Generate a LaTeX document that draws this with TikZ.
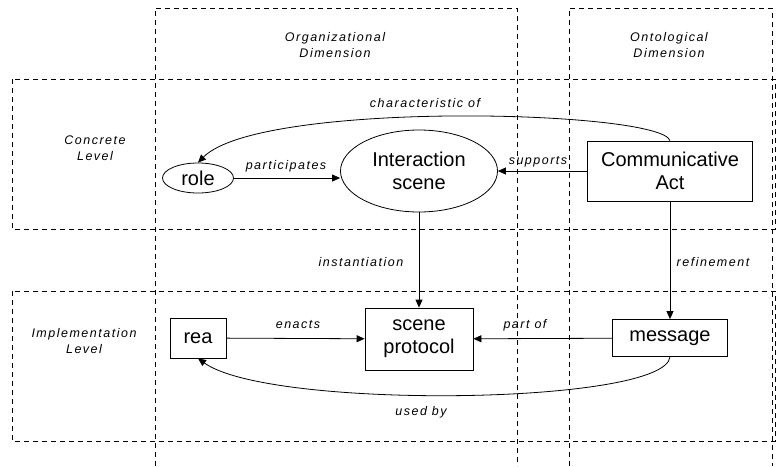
\documentclass[tikz,border=0pt]{standalone}
\usepackage{fontspec}
\setmainfont{Liberation Sans}
\newfontfamily\lblfont[LetterSpace=12]{Liberation Sans}
\usetikzlibrary{shapes.geometric,arrows.meta}

\begin{document}
\begin{tikzpicture}[x=1pt,y=-1pt,
  zone/.style={dash pattern=on 5pt off 4pt, line width=0.9pt},
  ent/.style={draw, line width=0.8pt, font=\fontsize{20}{23}\selectfont, align=center, inner sep=0pt},
  roundent/.style={ent, ellipse},
  boxent/.style={ent, rectangle},
  lbl/.style={font=\lblfont\itshape\fontsize{12.5}{16.5}\selectfont, align=center, inner sep=0pt},
  link/.style={-{Triangle[length=8pt,width=7pt]}, line width=0.8pt}]
\useasboundingbox (0,0) rectangle (776,466);
% dimensions and levels
\draw[zone] (155,466) -- (155,8) -- (517,8) -- (517,466);
\draw[zone] (569,466) -- (569,8) -- (772,8) -- (772,466);
\draw[zone] (12,79) rectangle (775,229);
\draw[zone] (12,291) rectangle (775,441);
\node[lbl] (OrgDim) at (335,45) {Organizational\\Dimension};
\node[lbl] (OntDim) at (669,45) {Ontological\\Dimension};
\node[lbl] (ConLev) at (95,148) {Concrete\\Level};
\node[lbl] (ImpLev) at (84,341) {Implementation\\Level};
% entities
\node[roundent, minimum width=71pt, minimum height=30pt] (role) at (198,178) {role};
\node[roundent, minimum width=157pt, minimum height=82pt] (scene) at (419,171) {Interaction\\scene};
\node[boxent, minimum width=165pt, minimum height=60pt] (act) at (670,171) {Communicative\\Act};
\node[boxent, minimum width=56pt, minimum height=40pt] (rea) at (198,338) {rea};
\node[boxent, minimum width=108pt, minimum height=62pt] (protocol) at (419,339) {scene\\protocol};
\node[boxent, minimum width=115pt, minimum height=37pt] (message) at (670,338) {message};
% relations
\draw[link] (role.east) -- (role.east -| scene.west);
\draw[link] (act) -- (scene);
\draw[link] (scene) -- (protocol);
\draw[link] (act) -- (message);
\draw[link] (rea) -- (protocol);
\draw[link] (message) -- (protocol);
\draw[link] (act.north) .. controls (660,110) and (260,100) .. (role.north);
\draw[link] (message.south) .. controls (665,405) and (270,410) .. (rea.south);
\node[lbl] (charof) at (425,103) {characteristic of};
\node[lbl] (particip) at (286,166) {participates};
\node[lbl] (supports) at (538,162) {supports};
\node[lbl] (instant) at (361,262) {instantiation};
\node[lbl] (refine) at (713,262) {refinement};
\node[lbl] (enacts) at (298,325) {enacts};
\node[lbl] (partof) at (525,325) {part of};
\node[lbl] (usedby) at (421,412) {used by};
\end{tikzpicture}
\end{document}
